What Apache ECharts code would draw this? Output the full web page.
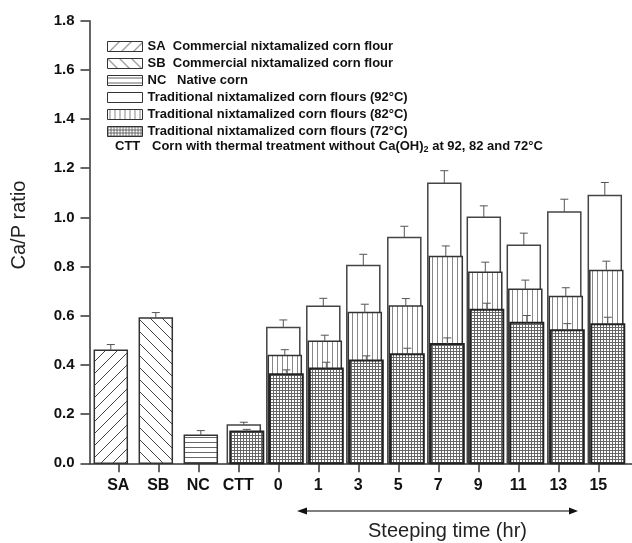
<!DOCTYPE html>
<html>
<head>
<meta charset="utf-8">
<script src="https://cdn.jsdelivr.net/npm/echarts@6/dist/echarts.min.js"></script>
<style>html,body{margin:0;padding:0;background:#fff;}#c{width:632px;height:543px;}</style>
</head>
<body>
<div id="c"></div>
<script>
// ---------- data ----------
const categories = ['SA','SB','NC','CTT','0','1','3','5','7','9','11','13','15'];
const yTickValues = [0,0.2,0.4,0.6,0.8,1.0,1.2,1.4,1.6,1.8];

const singleCats = ['SA','SB','NC'];
const singleVals = [0.460, 0.591, 0.114];
const singleErr  = [0.023, 0.022, 0.019];

const treatedCats = ['CTT','0','1','3','5','7','9','11','13','15'];
const flour92 = [0.156, 0.552, 0.639, 0.804, 0.918, 1.139, 1.001, 0.887, 1.022, 1.089];
const err92   = [0.011, 0.031, 0.032, 0.046, 0.046, 0.051, 0.046, 0.049, 0.052, 0.053];
const flour82 = [null,  0.438, 0.496, 0.613, 0.640, 0.841, 0.777, 0.708, 0.678, 0.784];
const err82   = [null,  0.024, 0.025, 0.034, 0.030, 0.043, 0.041, 0.037, 0.036, 0.038];
const flour72 = [0.129, 0.362, 0.386, 0.418, 0.443, 0.485, 0.624, 0.572, 0.541, 0.565];
const err72   = [0.009, 0.018, 0.025, 0.019, 0.025, 0.025, 0.027, 0.029, 0.027, 0.029];

const legendNames = [
  'SA  Commercial nixtamalized corn flour',
  'SB  Commercial nixtamalized corn flour',
  'NC   Native corn',
  'Traditional nixtamalized corn flours (92\u00B0C)',
  'Traditional nixtamalized corn flours (82\u00B0C)',
  'Traditional nixtamalized corn flours (72\u00B0C)'
];

// ---------- layout helpers (pixel nudges of bars relative to tick centres) ----------
const barNudgePx = [-7.5, -2.5, 2.5, 5.5, 5, 5, 5, 6, 6, 5.5, 5.5, 6, 6.5];
const BAR_W = 33;

function tile(w, h, draw) {
  const c = document.createElement('canvas');
  c.width = w; c.height = h;
  const g = c.getContext('2d');
  g.fillStyle = '#fff'; g.fillRect(0, 0, w, h);
  draw(g, w, h);
  return { image: c, repeat: 'repeat' };
}
const patSA = tile(12, 12, (g) => {
  g.strokeStyle = '#444'; g.lineWidth = 1;
  g.beginPath(); g.moveTo(-1, 13); g.lineTo(13, -1); g.stroke();
  g.beginPath(); g.moveTo(-2, 2); g.lineTo(2, -2); g.stroke();
  g.beginPath(); g.moveTo(10, 14); g.lineTo(14, 10); g.stroke();
});
const patSB = tile(12, 12, (g) => {
  g.strokeStyle = '#444'; g.lineWidth = 1;
  g.beginPath(); g.moveTo(-1, -1); g.lineTo(13, 13); g.stroke();
  g.beginPath(); g.moveTo(-2, 10); g.lineTo(2, 14); g.stroke();
  g.beginPath(); g.moveTo(10, -2); g.lineTo(14, 2); g.stroke();
});
const patNC = tile(4, 5, (g, w) => { g.fillStyle = '#666'; g.fillRect(0, 2, w, 1); });
const pat92 = '#ffffff';
const pat82 = tile(5, 4, (g, w, h) => { g.fillStyle = '#888'; g.fillRect(2, 0, 1, h); });
const pat72 = tile(3, 3, (g, w, h) => { g.fillStyle = '#666'; g.fillRect(0, 0, w, 1); g.fillRect(0, 0, 1, h); });

function makeRender(shift, fill, stroke, lw) {
  return function (params, api) {
    const ci = api.value(0), v = api.value(1), e = api.value(2);
    const base = api.coord([ci, 0]);
    const top = api.coord([ci, v]);
    const et = api.coord([ci, v + e]);
    const cx = base[0] + barNudgePx[ci] + shift;
    return {
      type: 'group',
      children: [
        { type: 'rect', shape: { x: cx - BAR_W / 2, y: top[1], width: BAR_W, height: base[1] - top[1] },
          style: { fill: fill, stroke: stroke, lineWidth: lw } },
        { type: 'line', shape: { x1: cx, y1: top[1], x2: cx, y2: et[1] }, style: { stroke: '#555', lineWidth: 1 } },
        { type: 'line', shape: { x1: cx - 4, y1: et[1], x2: cx + 4, y2: et[1] }, style: { stroke: '#555', lineWidth: 1 } }
      ]
    };
  };
}
function rows(cats, vals, errs) {
  const out = [];
  cats.forEach((c, i) => { if (vals[i] != null) out.push([c, vals[i], errs[i]]); });
  return out;
}

const FONT = 'Liberation Sans, Arial, sans-serif';
const fills = [patSA, patSB, patNC, pat92, pat82, pat72];
const strokes = ['#333', '#333', '#333', '#444', '#333', '#222'];
const lws = [1.5, 1.5, 1.5, 1.5, 1.5, 2];
const shifts = [0, 0, 0, 0, 1.5, 3];
const seriesData = [
  rows(['SA'], [singleVals[0]], [singleErr[0]]),
  rows(['SB'], [singleVals[1]], [singleErr[1]]),
  rows(['NC'], [singleVals[2]], [singleErr[2]]),
  rows(treatedCats, flour92, err92),
  rows(treatedCats, flour82, err82),
  rows(treatedCats, flour72, err72)
];

const series = legendNames.map((name, k) => ({
  type: 'custom', name: name, xAxisIndex: 0, yAxisIndex: 0,
  renderItem: makeRender(shifts[k], fills[k], strokes[k], lws[k]),
  encode: { x: 0, y: 1 }, clip: false,
  itemStyle: { color: fills[k], borderColor: '#333', borderWidth: 1 },
  data: seriesData[k]
}));

const chart = echarts.init(document.getElementById('c'), null, { renderer: 'canvas' });
chart.setOption({
  animation: false,
  backgroundColor: '#fff',
  textStyle: { fontFamily: FONT },
  grid: [
    { left: 98.3, width: 520, top: 20.7, bottom: 79.7 },
    { left: 89.5, right: 0, top: 20.7, bottom: 79.7 }
  ],
  xAxis: [
    { type: 'category', gridIndex: 0, data: categories,
      axisLine: { show: false },
      axisTick: { show: true, alignWithLabel: true, interval: 0, length: 9, lineStyle: { color: '#333', width: 1.5 } },
      axisLabel: { interval: 0, hideOverlap: false, margin: 14, color: '#111', fontWeight: 'bold', fontSize: 16, fontFamily: FONT },
      splitLine: { show: false } },
    { type: 'value', gridIndex: 1, min: 0, max: 1,
      axisLine: { show: true, lineStyle: { color: '#333', width: 1.5 } },
      axisTick: { show: false }, axisLabel: { show: false }, splitLine: { show: false } }
  ],
  yAxis: [
    { type: 'value', gridIndex: 0, min: 0, max: 1.8, show: false },
    { type: 'value', gridIndex: 1, min: 0, max: 1.8, interval: 0.2,
      axisLine: { show: true, lineStyle: { color: '#333', width: 1.5 } },
      axisTick: { show: true, length: 9, lineStyle: { color: '#333', width: 1.5 } },
      axisLabel: { margin: 15, color: '#111', fontWeight: 'bold', fontSize: 15, fontFamily: FONT,
        formatter: (v) => (yTickValues.some(t => Math.abs(t - v) < 1e-9) ? v.toFixed(1) : '') },
      splitLine: { show: false },
      name: 'Ca/P ratio', nameLocation: 'middle', nameGap: 60,
      nameTextStyle: { fontSize: 20, color: '#222', fontFamily: FONT, padding: [0, 0, 0, 34] } }
  ],
  legend: {
    orient: 'vertical', left: 102, top: 35, icon: 'rect',
    itemWidth: 35, itemHeight: 10, itemGap: 4,
    textStyle: { fontSize: 13, fontWeight: 'bold', color: '#111', fontFamily: FONT },
    selectedMode: false,
    data: legendNames.map((n, k) => ({ name: n, itemStyle: { color: fills[k], borderColor: '#333', borderWidth: 1 } }))
  },
  graphic: [
    { type: 'text', left: 115, top: 140, style: { text: 'CTT', fontSize: 13, fontWeight: 'bold', fill: '#111', fontFamily: FONT } },
    { type: 'text', left: 152, top: 140, style: {
        text: '{t|Corn with thermal treatment without Ca(OH)}{s|2}{t| at 92, 82 and 72\u00B0C}',
        rich: {
          t: { fontSize: 13, fontWeight: 'bold', fill: '#111', fontFamily: FONT },
          s: { fontSize: 9, fontWeight: 'bold', fill: '#111', fontFamily: FONT, padding: [6, 0, 0, 0] }
        } } },
    { type: 'line', shape: { x1: 304, y1: 511, x2: 571, y2: 511 }, style: { stroke: '#555', lineWidth: 1.5 } },
    { type: 'polygon', shape: { points: [[297, 511], [307, 507.5], [307, 514.5]] }, style: { fill: '#111' } },
    { type: 'polygon', shape: { points: [[578, 511], [569, 507.5], [569, 514.5]] }, style: { fill: '#111' } },
    { type: 'text', x: 447.5, y: 531, style: { text: 'Steeping time (hr)', fontSize: 20, fill: '#222', fontFamily: FONT, align: 'center', verticalAlign: 'middle' } }
  ],
  series: series
});
</script>
</body>
</html>
